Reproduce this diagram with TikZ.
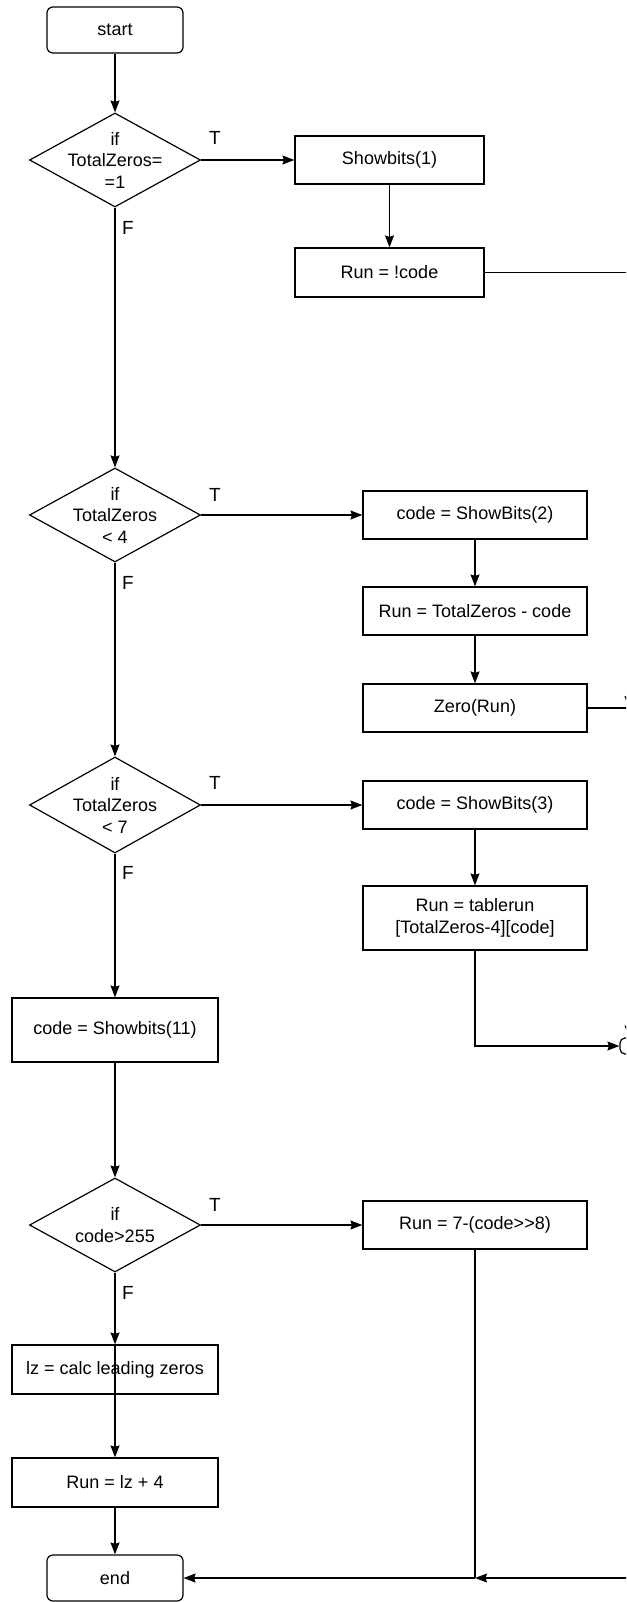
\documentclass[tikz,border=0pt]{standalone}
\usepackage{fontspec}
\setmainfont{Liberation Sans}
\usetikzlibrary{shapes.geometric,arrows.meta}

\begin{document}
\begin{tikzpicture}[x=1pt,y=-1pt,
  every node/.style={font=\fontsize{18}{21.5}\selectfont, align=center, inner sep=0pt},
  procbox/.style={draw, line width=1.2pt, rectangle, minimum height=48pt},
  wide/.style={minimum width=224pt},
  termbox/.style={draw, line width=1.2pt, rectangle, rounded corners=6pt, minimum width=136pt, minimum height=46pt},
  decision/.style={draw, line width=1.2pt, diamond, minimum width=171pt, minimum height=94pt},
  branch/.style={font=\fontsize{19}{21}\selectfont},
  link/.style={line width=1.2pt},
  arr/.style={link, -{Stealth[length=12pt,width=9pt,inset=1.5pt]}}
]
\useasboundingbox (0,0) rectangle (626,1602);
\clip (0,0) rectangle (626,1602);

% left column
\node[termbox] (start) at (115,30) {start};
\node[decision] (d1) at (115,160) {};
\node at (d1.center) {if\\TotalZeros=\\=1};
\node[decision] (d2) at (115,515) {};
\node at (d2.center) {if\\TotalZeros\\< 4};
\node[decision, minimum height=96pt] (d3) at (115,805) {};
\node at (d3.center) {if\\TotalZeros\\< 7};
\node[procbox, minimum width=206pt, minimum height=64pt] (sb11) at (115,1030) {code = Showbits(11)};
\node[decision] (d4) at (115,1225) {};
\node at (d4.center) {if\\code>255};
\node[procbox, minimum width=206pt, minimum height=49pt] (lz) at (115,1369.5) {lz = calc leading zeros};
\node[procbox, minimum width=206pt, minimum height=49pt] (runlz) at (115,1482.5) {Run = lz + 4};
\node[termbox] (end) at (115,1578) {end};

% right column
\node[procbox, minimum width=189pt] (sb1) at (389.5,160) {Showbits(1)};
\node[procbox, minimum width=189pt, minimum height=49pt] (run1) at (389.5,272.5) {Run = !code};
\node[procbox, wide] (sb2) at (475,515) {code = ShowBits(2)};
\node[procbox, wide] (run2) at (475,611) {Run = TotalZeros - code};
\node[procbox, wide] (zero) at (475,708) {Zero(Run)};
\node[procbox, wide] (sb3) at (475,805) {code = ShowBits(3)};
\node[procbox, wide, minimum height=64pt] (tab) at (475,918) {Run = tablerun\\{[TotalZeros-4][code]}};
\node[procbox, wide] (run7) at (475,1225) {Run = 7-(code>{}>8)};

% merge connector at the right margin
\node[draw, line width=1.2pt, rectangle, rounded corners=5pt, minimum width=18pt, minimum height=16pt] (conn) at (629,1046) {};
\coordinate (m1) at (conn.center |- run1.east);
\coordinate (m2) at (conn.center |- zero.east);
\coordinate (j) at (run7.south |- end.east);
\coordinate (m3) at (conn.center |- j);

% branch labels
\node[branch] at (215,138) {T};
\node[branch] at (128,228) {F};
\node[branch] at (215,495) {T};
\node[branch] at (128,583) {F};
\node[branch] at (215,783) {T};
\node[branch] at (128,873) {F};
\node[branch] at (215,1205) {T};
\node[branch] at (128,1293) {F};

% main flow
\draw[arr] (start.south) -- (d1.north);
\draw[arr] (d1.south) -- (d2.north);
\draw[arr] (d2.south) -- (d3.north);
\draw[arr] (d3.south) -- (sb11.north);
\draw[arr] (sb11.south) -- (d4.north);
\draw[arr] (d4.south) -- (lz.north);
\draw[arr] (lz.north) -- (runlz.north);
\draw[arr] (runlz.south) -- (end.north);

% true branches
\draw[arr] (d1.east) -- (sb1.west);
\draw[arr] (sb1.south) -- (run1.north);
\draw[arr] (d2.east) -- (sb2.west);
\draw[arr] (sb2.south) -- (run2.north);
\draw[arr] (run2.south) -- (zero.north);
\draw[arr] (d3.east) -- (sb3.west);
\draw[arr] (sb3.south) -- (tab.north);
\draw[arr] (d4.east) -- (run7.west);

% merging back
\draw[arr] (run1.east) -- (m1) -- (m2);
\draw[link] (zero.east) -- (m2);
\draw[arr] (m2) -- (conn.north);
\draw[arr] (tab.south) -- (tab.south |- conn.west) -- (conn.west);
\draw[arr] (conn.south) -- (m3) -- (j);
\draw[link] (run7.south) -- (j);
\draw[arr] (j) -- (end.east);
\end{tikzpicture}
\end{document}
